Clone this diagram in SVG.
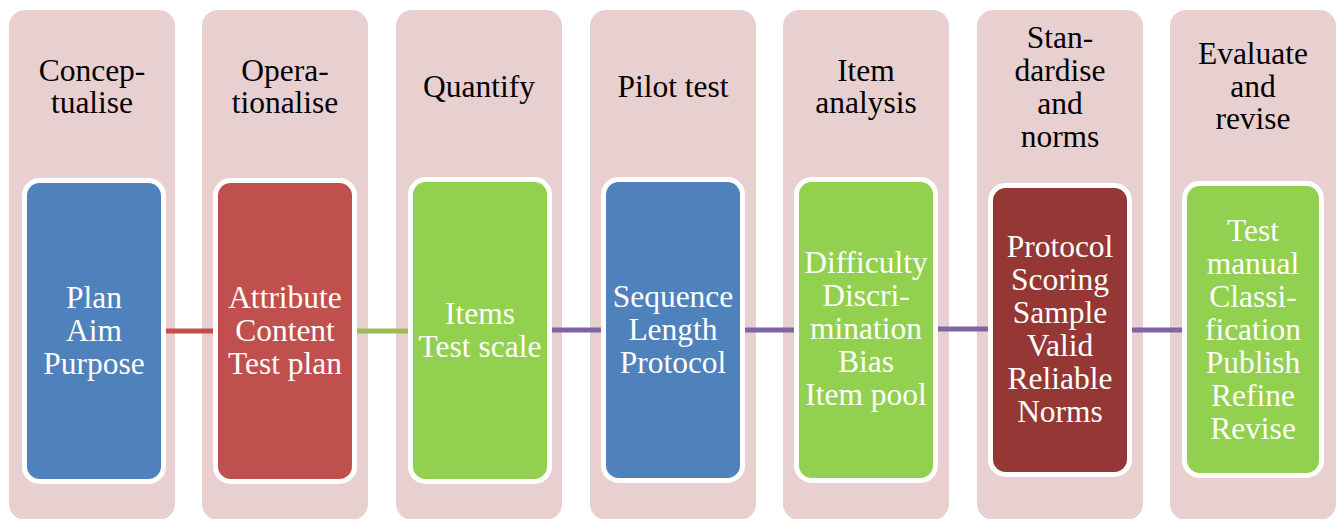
<svg xmlns="http://www.w3.org/2000/svg" width="1336" height="519" viewBox="0 0 1336 519">
  <style>
    .panel { fill: #E8D0D1; }
    .box { stroke: #FFFFFF; stroke-width: 5; }
    .title { font-family: 'Liberation Serif', 'DejaVu Serif', 'Times New Roman', serif; font-size: 31.5px; fill: #000000; text-anchor: middle; }
    .body { font-family: 'Liberation Serif', 'DejaVu Serif', 'Times New Roman', serif; font-size: 31.5px; fill: #FFFFFF; text-anchor: middle; }
    .conn { stroke-width: 5; fill: none; }
  </style>
  <rect width="1336" height="519" fill="#FFFFFF"/>

  <!-- stage panels -->
  <g id="panels">
    <rect class="panel" x="9" y="10" width="166" height="510" rx="16"/>
    <rect class="panel" x="202" y="10" width="166" height="510" rx="16"/>
    <rect class="panel" x="396" y="10" width="166" height="510" rx="16"/>
    <rect class="panel" x="590" y="10" width="166" height="510" rx="16"/>
    <rect class="panel" x="783" y="10" width="166" height="510" rx="16"/>
    <rect class="panel" x="977" y="10" width="166" height="510" rx="16"/>
    <rect class="panel" x="1170" y="10" width="166" height="510" rx="16"/>
  </g>

  <!-- links between stage boxes -->
  <g id="connectors">
    <line class="conn" x1="160" y1="331" x2="216" y2="331" stroke="#C0504D"/>
    <line class="conn" x1="354" y1="331" x2="411" y2="331" stroke="#9BBB59"/>
    <line class="conn" x1="549" y1="330" x2="604" y2="330" stroke="#8064A2"/>
    <line class="conn" x1="741" y1="330" x2="797" y2="330" stroke="#8064A2"/>
    <line class="conn" x1="934" y1="329" x2="991" y2="329" stroke="#8064A2"/>
    <line class="conn" x1="1129" y1="330" x2="1185" y2="330" stroke="#8064A2"/>
  </g>

  <g id="stage1">
    <text class="title" x="92" y="81">Concep-</text>
    <text class="title" x="92" y="113">tualise</text>
    <rect class="box" x="24.5" y="180.5" width="139" height="301" rx="15" fill="#4F81BD"/>
    <text class="body" x="94" y="308">Plan</text>
    <text class="body" x="94" y="341">Aim</text>
    <text class="body" x="94" y="374">Purpose</text>
  </g>

  <g id="stage2">
    <text class="title" x="285" y="81">Opera-</text>
    <text class="title" x="285" y="113">tionalise</text>
    <rect class="box" x="215.5" y="180.5" width="139" height="301" rx="15" fill="#C0504D"/>
    <text class="body" x="285" y="308">Attribute</text>
    <text class="body" x="285" y="341">Content</text>
    <text class="body" x="285" y="374">Test plan</text>
  </g>

  <g id="stage3">
    <text class="title" x="479" y="97">Quantify</text>
    <rect class="box" x="410.5" y="179.5" width="139" height="302" rx="15" fill="#92D050"/>
    <text class="body" x="480" y="324">Items</text>
    <text class="body" x="480" y="357">Test scale</text>
  </g>

  <g id="stage4">
    <text class="title" x="673" y="97">Pilot test</text>
    <rect class="box" x="603.5" y="179.5" width="139" height="301" rx="15" fill="#4F81BD"/>
    <text class="body" x="673" y="307">Sequence</text>
    <text class="body" x="673" y="340">Length</text>
    <text class="body" x="673" y="373">Protocol</text>
  </g>

  <g id="stage5">
    <text class="title" x="866" y="81">Item</text>
    <text class="title" x="866" y="113">analysis</text>
    <rect class="box" x="796.5" y="179.5" width="139" height="301" rx="15" fill="#92D050"/>
    <text class="body" x="866" y="273">Difficulty</text>
    <text class="body" x="866" y="306">Discri-</text>
    <text class="body" x="866" y="339">mination</text>
    <text class="body" x="866" y="372">Bias</text>
    <text class="body" x="866" y="405">Item pool</text>
  </g>

  <g id="stage6">
    <text class="title" x="1060" y="48">Stan-</text>
    <text class="title" x="1060" y="81">dardise</text>
    <text class="title" x="1060" y="114">and</text>
    <text class="title" x="1060" y="147">norms</text>
    <rect class="box" x="990.5" y="185.5" width="139" height="289" rx="15" fill="#953735"/>
    <text class="body" x="1060" y="257">Protocol</text>
    <text class="body" x="1060" y="290">Scoring</text>
    <text class="body" x="1060" y="323">Sample</text>
    <text class="body" x="1060" y="356">Valid</text>
    <text class="body" x="1060" y="389">Reliable</text>
    <text class="body" x="1060" y="422">Norms</text>
  </g>

  <g id="stage7">
    <text class="title" x="1253" y="64">Evaluate</text>
    <text class="title" x="1253" y="97">and</text>
    <text class="title" x="1253" y="129">revise</text>
    <rect class="box" x="1184.5" y="183.5" width="137" height="292" rx="15" fill="#92D050"/>
    <text class="body" x="1253" y="241">Test</text>
    <text class="body" x="1253" y="274">manual</text>
    <text class="body" x="1253" y="307">Classi-</text>
    <text class="body" x="1253" y="340">fication</text>
    <text class="body" x="1253" y="373">Publish</text>
    <text class="body" x="1253" y="406">Refine</text>
    <text class="body" x="1253" y="439">Revise</text>
  </g>
</svg>
